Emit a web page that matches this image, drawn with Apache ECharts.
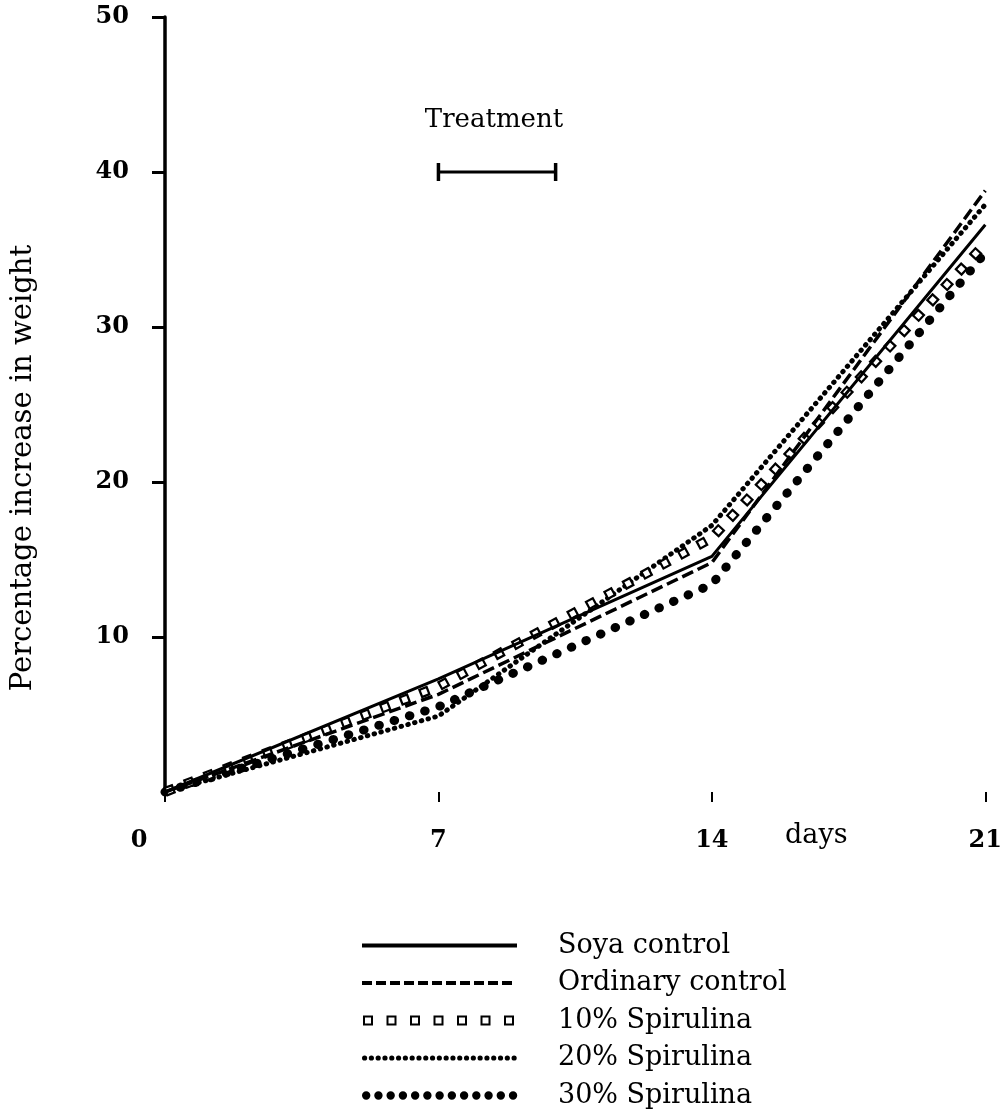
<!DOCTYPE html>
<html>
<head>
<meta charset="utf-8">
<script src="https://cdn.jsdelivr.net/npm/echarts@6/dist/echarts.min.js"></script>
<style>
  html, body { margin: 0; padding: 0; background: #fff; }
  #chart { width: 1005px; height: 1116px; }
</style>
</head>
<body>
<div id="chart"></div>
<script>
// values (% increase in weight)
const days = [0, 7, 14, 21];
const soyaControl = [0, 7.3, 15.2, 36.6];
const ordinaryControl = [0, 6.3, 14.8, 38.8];
const spirulina10 = [0, 6.8, 16.4, 35.4];
const spirulina20 = [0, 4.9, 17.2, 37.9];
const spirulina30 = [0, 5.5, 13.4, 34.8];
const treatmentDays = [7, 10];
const treatmentLevel = 40;
const seriesNames = ['Soya control', 'Ordinary control', '10% Spirulina', '20% Spirulina', '30% Spirulina'];

const font = '"DejaVu Serif", serif';
const toPoints = vals => days.map((d, i) => [d, vals[i]]);

// legend swatches, drawn as paths inside a 191 x 12 frame (line part is 155 wide)
const FW = 191, FH = 12;
const frame = 'M0 0 M' + FW + ' ' + FH + ' ';
const rect = (x, y, w, h) => `M${x} ${y} L${x + w} ${y} L${x + w} ${y + h} L${x} ${y + h} Z `;
const hole = (x, y, w, h) => `M${x} ${y} L${x} ${y + h} L${x + w} ${y + h} L${x + w} ${y} Z `;
const dot = (cx, cy, r) => `M${cx - r} ${cy} A${r} ${r} 0 1 0 ${cx + r} ${cy} A${r} ${r} 0 1 0 ${cx - r} ${cy} Z `;

let solidIcon = frame + rect(0, 4, 155, 4);
let dashIcon = frame;
for (let x = 0; x < 150; x += 14) dashIcon += rect(x, 4, Math.min(10, 155 - x), 4);
let squareIcon = frame;
for (let i = 0; i < 7; i++) {
  const x = 1 + i * 23.5;
  squareIcon += rect(x, 1, 10, 10) + hole(x + 2, 3, 6, 6);
}
let smallDotIcon = frame;
for (let x = 2.5; x < 155; x += 6.8) smallDotIcon += dot(x, 6, 2.6);
let bigDotIcon = frame;
for (let i = 0; i < 13; i++) bigDotIcon += dot(4 + i * 12.25, 6, 4.2);
const icons = [solidIcon, dashIcon, squareIcon, smallDotIcon, bigDotIcon];

const chart = echarts.init(document.getElementById('chart'));

const baseLine = (name, vals, lineStyle, z) => ({
  name,
  type: 'line',
  data: toPoints(vals),
  symbol: 'none',
  silent: true,
  z,
  itemStyle: { color: lineStyle.color || '#000', borderWidth: 0 },
  lineStyle: Object.assign({ color: '#000' }, lineStyle),
});

const option = {
  animation: false,
  backgroundColor: '#fff',
  grid: { left: 165, right: 17, top: 17, bottom: 324, containLabel: false },
  xAxis: {
    type: 'value',
    min: 0,
    max: 21,
    interval: 7,
    axisLine: { show: false },
    axisTick: { show: true, length: 10, lineStyle: { color: '#000', width: 2 } },
    splitLine: { show: false },
    axisLabel: {
      margin: 37,
      color: '#000',
      fontFamily: font,
      fontWeight: 'bold',
      fontSize: 24,
      formatter: v => (v === 0 ? '{z|0}' : String(v)),
      rich: { z: { padding: [0, 52, 0, 0], fontFamily: font, fontWeight: 'bold', fontSize: 24, color: '#000' } },
    },
  },
  yAxis: {
    type: 'value',
    min: 0,
    max: 50,
    interval: 10,
    axisLine: { show: true, lineStyle: { color: '#000', width: 3.5 } },
    axisTick: { show: true, length: 13, lineStyle: { color: '#000', width: 3 } },
    splitLine: { show: false },
    axisLabel: {
      showMinLabel: false,
      margin: 36,
      color: '#000',
      fontFamily: font,
      fontWeight: 'bold',
      fontSize: 24,
    },
  },
  legend: {
    data: seriesNames.map((n, i) => ({ name: n, icon: 'path://' + icons[i] })),
    orient: 'vertical',
    left: 362,
    top: 932,
    itemWidth: FW,
    itemHeight: FH,
    itemGap: 10.5,
    padding: 0,
    selectedMode: false,
    itemStyle: { borderWidth: 0 },
    textStyle: { color: '#000', fontFamily: font, fontSize: 27, lineHeight: 27 },
  },
  graphic: [
    {
      type: 'text',
      x: 23,
      y: 468,
      rotation: Math.PI / 2,
      style: { text: 'Percentage increase in weight', font: '29px ' + font, fill: '#000', align: 'center', verticalAlign: 'middle' },
    },
    {
      type: 'text',
      x: 494,
      y: 120,
      style: { text: 'Treatment', font: '26px ' + font, fill: '#000', align: 'center', verticalAlign: 'middle' },
    },
    {
      type: 'text',
      x: 785,
      y: 836,
      style: { text: 'days', font: '27px ' + font, fill: '#000', align: 'left', verticalAlign: 'middle' },
    },
  ],
  series: [
    baseLine(seriesNames[4], spirulina30, { width: 9, type: [0.5, 15.5], cap: 'round' }, 2),
    baseLine(seriesNames[3], spirulina20, { width: 5, type: [0.5, 6.5], cap: 'round' }, 3),
    baseLine(seriesNames[2], spirulina10, { width: 10, type: [10, 11] }, 4),
    // white centre of the hollow squares
    baseLine('10% Spirulina inner', spirulina10, { color: '#fff', width: 5.5, type: [5.5, 15.5], dashOffset: -2.25 }, 5),
    baseLine(seriesNames[1], ordinaryControl, { width: 3.5, type: [12, 5] }, 6),
    baseLine(seriesNames[0], soyaControl, { width: 3 }, 7),
    {
      name: 'Treatment',
      type: 'line',
      data: treatmentDays.map(d => [d, treatmentLevel]),
      symbol: 'rect',
      symbolSize: [3.5, 18],
      showSymbol: true,
      silent: true,
      z: 8,
      itemStyle: { color: '#000', borderWidth: 0 },
      lineStyle: { color: '#000', width: 3 },
    },
  ],
};

chart.setOption(option);
window.addEventListener('resize', () => chart.resize());
</script>
</body>
</html>
